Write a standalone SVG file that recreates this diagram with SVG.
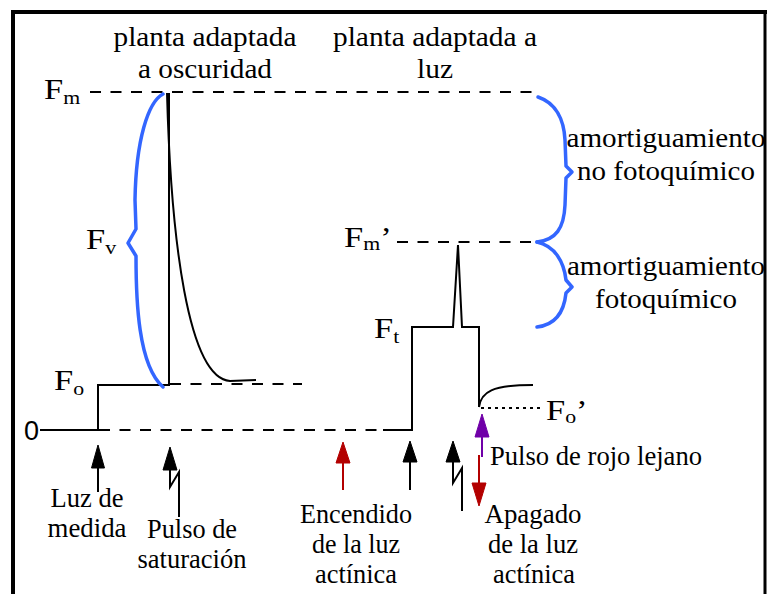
<svg xmlns="http://www.w3.org/2000/svg" width="769" height="594" viewBox="0 0 769 594">
<style>
.t{font-family:"Liberation Serif","Times New Roman",serif;font-size:28px;fill:#000}
.f{font-family:"Liberation Serif","Times New Roman",serif;font-size:30px;fill:#000}
.s{font-size:19px}
.m{text-anchor:middle}
.ln{fill:none;stroke:#000;stroke-width:2}
.dash{fill:none;stroke:#000;stroke-width:2;stroke-dasharray:11 9.5}
.dot{fill:none;stroke:#000;stroke-width:2;stroke-dasharray:3 4}
.br{fill:none;stroke:#3366ff;stroke-width:3.5;stroke-linecap:round;stroke-linejoin:round}
.red{stroke:#b30000;fill:#b30000}
.pur{stroke:#7000a8;fill:#7000a8}
.blk{stroke:#000;fill:#000}
</style>
<rect width="769" height="594" fill="#fff"/>
<g id="frame" fill="none" stroke="#000">
<path d="M13,594 V12 H767" stroke-width="4"/>
<path d="M765,12 V594" stroke-width="3"/>
</g>
<g id="guides">
<path class="dash" d="M90,92 H534"/>
<path class="dash" d="M397,242 H537"/>
<path class="dash" d="M170,384 H302"/>
<path class="dash" d="M99,430 H383"/>
<path class="dot" d="M481,408 H543"/>
</g>
<g id="dark-trace">
<path class="ln" d="M40,430 H98 V385 H170"/>
<path class="ln" d="M169,93 V385"/>
<path class="ln" d="M167,93 C171,240 188,378 230,381 L256,380"/>
</g>
<g id="light-trace">
<path class="ln" d="M383,430 H412 V327 H453 L458,245 L462,327 H479 V407"/>
<path class="ln" d="M479,407 C481,392 492,385 533,385"/>
</g>
<g id="braces">
<path class="br" d="M163,94 C148,102 136,140 135,200 L136,229 L128,243 L136,256 C136,300 138,365 163,387"/>
<path class="br" d="M538,97 C556,103 564,120 565,140 L566,166 L572,172 L566,178 L565,205 C564,228 556,240 537,242"/>
<path class="br" d="M537,242 C555,246 564,262 566,280 L572,287 L566,293 C564,312 555,325 537,327"/>
</g>
<g id="levels">
<text class="f" transform="translate(44,99) scale(1.15,1)">F<tspan class="s" dy="5">m</tspan></text>
<text class="f" transform="translate(86,249) scale(1.15,1)">F<tspan class="s" dy="5">v</tspan></text>
<text class="f" transform="translate(54,390) scale(1.15,1)">F<tspan class="s" dy="5">o</tspan></text>
<text class="f" transform="translate(344,247) scale(1.15,1)">F<tspan class="s" dy="3">m</tspan><tspan dy="-3">’</tspan></text>
<text class="f" transform="translate(374,338) scale(1.15,1)">F<tspan class="s" dy="5">t</tspan></text>
<text class="f" transform="translate(546,420) scale(1.15,1)">F<tspan class="s" dy="3">o</tspan><tspan dy="-3">’</tspan></text>
<text x="24" y="440" style="font-family:'Liberation Sans',Arial,sans-serif;font-size:27px">0</text>
</g>
<g id="titles">
<text class="t m" x="205" y="46" textLength="183" lengthAdjust="spacingAndGlyphs">planta adaptada</text>
<text class="t m" x="205" y="78" textLength="134" lengthAdjust="spacingAndGlyphs">a oscuridad</text>
<text class="t m" x="435" y="46" textLength="204" lengthAdjust="spacingAndGlyphs">planta adaptada a</text>
<text class="t m" x="435" y="78" textLength="36" lengthAdjust="spacingAndGlyphs">luz</text>
<text class="t m" x="666" y="147" textLength="199" lengthAdjust="spacingAndGlyphs">amortiguamiento</text>
<text class="t m" x="666" y="180" textLength="178" lengthAdjust="spacingAndGlyphs">no fotoquímico</text>
<text class="t m" x="666" y="275" textLength="198" lengthAdjust="spacingAndGlyphs">amortiguamiento</text>
<text class="t m" x="666" y="308" textLength="142" lengthAdjust="spacingAndGlyphs">fotoquímico</text>
</g>
<g id="connectors">
<g id="luz-medida"><polygon class="blk" points="98,445 91.5,468 104.5,468"/><path class="ln" d="M98,467 V492"/></g>
<g id="pulso-saturacion"><polygon class="blk" points="170,447 163,470 177,470"/><path class="ln" d="M170,469 V487 L179,472 V517"/></g>
<g id="encendido"><polygon class="red" points="343,442 336,463 350,463"/><path class="red" stroke-width="2" d="M343,462 V490"/></g>
<g id="medida-2"><polygon class="blk" points="410,441 403,462 417,462"/><path class="ln" d="M410,461 V490"/></g>
<g id="pulso-2"><polygon class="blk" points="453,441 446,462 460,462"/><path class="ln" d="M453,461 V483 L462,468 V511"/></g>
<g id="rojo-lejano"><polygon class="pur" points="482,414 475,437 489,437"/><path class="pur" stroke-width="2" d="M482,436 V457"/></g>
<g id="apagado"><path class="red" stroke-width="2" d="M479,455 V484"/><polygon class="red" points="479,506 472,483 486,483"/></g>
</g>
<g id="labels">
<text class="t" x="490" y="465" textLength="212" lengthAdjust="spacingAndGlyphs">Pulso de rojo lejano</text>
<text class="t m" x="87" y="507" textLength="73" lengthAdjust="spacingAndGlyphs">Luz de</text>
<text class="t m" x="87" y="537" textLength="79" lengthAdjust="spacingAndGlyphs">medida</text>
<text class="t m" x="192" y="538" textLength="90" lengthAdjust="spacingAndGlyphs">Pulso de</text>
<text class="t m" x="192" y="568" textLength="109" lengthAdjust="spacingAndGlyphs">saturación</text>
<text class="t m" x="356" y="523" textLength="112" lengthAdjust="spacingAndGlyphs">Encendido</text>
<text class="t m" x="356" y="553" textLength="88" lengthAdjust="spacingAndGlyphs">de la luz</text>
<text class="t m" x="356" y="583" textLength="82" lengthAdjust="spacingAndGlyphs">actínica</text>
<text class="t m" x="533" y="523" textLength="97" lengthAdjust="spacingAndGlyphs">Apagado</text>
<text class="t m" x="533" y="553" textLength="90" lengthAdjust="spacingAndGlyphs">de la luz</text>
<text class="t m" x="534" y="583" textLength="82" lengthAdjust="spacingAndGlyphs">actínica</text>
</g>
</svg>
